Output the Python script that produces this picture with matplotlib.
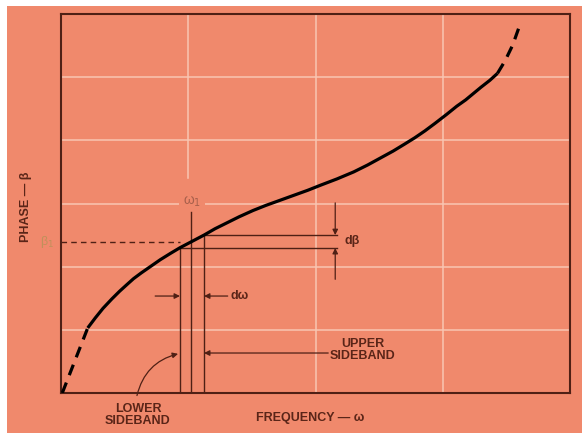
import numpy as np
import matplotlib.pyplot as plt
from matplotlib.patches import Rectangle

plt.rcParams['font.family'] = ['Liberation Sans', 'DejaVu Sans']

# phase curve (grid units: 4 columns, 6 rows)
dash_lo_x = [0.01, 0.21]
dash_lo_y = [0.0, 1.03]
curve_x = [0.21, 0.27, 0.33, 0.40, 0.46, 0.52, 0.57, 0.63, 0.68, 0.73, 0.78, 0.86,
           0.935, 1.02, 1.124, 1.21, 1.30, 1.40, 1.51, 1.61, 1.72, 1.83, 1.94, 2.04,
           2.17, 2.30, 2.41, 2.51, 2.61, 2.70, 2.78, 2.86, 2.94, 3.03, 3.11, 3.18,
           3.24, 3.30, 3.37, 3.43]
curve_y = [1.03, 1.19, 1.34, 1.49, 1.61, 1.72, 1.81, 1.90, 1.97, 2.04, 2.11, 2.21,
           2.30, 2.39, 2.50, 2.60, 2.69, 2.79, 2.89, 2.97, 3.05, 3.13, 3.21, 3.29,
           3.39, 3.50, 3.61, 3.72, 3.83, 3.94, 4.04, 4.15, 4.27, 4.41, 4.54, 4.64,
           4.74, 4.84, 4.95, 5.06]
dash_hi_x = [3.43, 3.49, 3.55, 3.61]
dash_hi_y = [5.06, 5.26, 5.51, 5.85]

w_lower, w_1, w_upper = 0.935, 1.02, 1.124
b_lower, b_1, b_upper = 2.295, 2.39, 2.50
w1_top = 2.87
line_end = 2.17

bg = '#F0896C'
grid_c = '#F9C6B2'
dark = '#4f2015'
txt = '#5a2518'

fig = plt.figure(figsize=(5.82, 4.33), dpi=100, facecolor='white')
fig.patches.append(Rectangle((7 / 582, 0), 1, (433 - 6) / 433, transform=fig.transFigure,
                             facecolor=bg, edgecolor='none', zorder=-10))
ax = fig.add_axes([61 / 582, 40 / 433, 509 / 582, 379 / 433])
ax.set_facecolor(bg)
ax.set_xlim(0, 4)
ax.set_ylim(0, 6)
ax.set_xticks([])
ax.set_yticks([])
for s in ax.spines.values():
    s.set_color(dark)
    s.set_linewidth(1.5)

# grid
for gy in [1, 2, 3, 4, 5]:
    ax.axhline(gy, color=grid_c, lw=1.1, zorder=1)
ax.plot([1, 1], [3.4, 6], color=grid_c, lw=1.1, zorder=1)
for gx in [2, 3]:
    ax.axvline(gx, color=grid_c, lw=1.1, zorder=1)

# curve
ax.plot(curve_x, curve_y, color='black', lw=2.3, zorder=5, solid_capstyle='butt',
        solid_joinstyle='round')
ax.plot(dash_lo_x, dash_lo_y, color='black', lw=2.3, ls=(0, (3.5, 2.5)), zorder=5)
ax.plot(dash_hi_x, dash_hi_y, color='black', lw=2.3, ls=(0, (3.5, 2.5)), zorder=5)

# sideband construction lines
lw = 1.0
ax.plot([w_lower, w_lower], [0, b_lower], color=dark, lw=lw, zorder=4)
ax.plot([w_1, w_1], [0, w1_top], color=dark, lw=lw, zorder=4)
ax.plot([w_upper, w_upper], [0, b_upper], color=dark, lw=lw, zorder=4)
ax.plot([w_lower, line_end], [b_lower, b_lower], color=dark, lw=lw, zorder=4)
ax.plot([w_upper, line_end], [b_upper, b_upper], color=dark, lw=lw, zorder=4)
ax.plot([0, w_lower], [b_1, b_1], color=dark, lw=lw, ls=(0, (4, 3)), zorder=4)

arr = dict(arrowstyle='-|>', mutation_scale=8, color=dark, lw=0.9, shrinkA=0, shrinkB=0)
# d-beta
ax.annotate('', xy=(2.155, b_upper), xytext=(2.155, 3.01), arrowprops=arr)
ax.annotate('', xy=(2.155, b_lower), xytext=(2.155, 1.80), arrowprops=arr)
ax.text(2.23, 2.40, 'd\u03b2', color=txt, fontsize=9, fontweight='bold', va='center', ha='left')
# d-omega
ax.annotate('', xy=(w_lower, 1.535), xytext=(0.74, 1.535), arrowprops=arr)
ax.annotate('', xy=(w_upper, 1.535), xytext=(1.31, 1.535), arrowprops=arr)
ax.text(1.33, 1.535, 'd\u03c9', color=txt, fontsize=9, fontweight='bold', va='center', ha='left')
# upper sideband
ax.annotate('', xy=(w_upper, 0.633), xytext=(2.10, 0.633), arrowprops=arr)
ax.text(2.37, 0.68, 'UPPER\nSIDEBAND', color=txt, fontsize=9, fontweight='bold',
        ha='center', va='center', linespacing=1.0)
# lower sideband
ax.annotate('', xy=(0.92, 0.62), xytext=(0.597, -0.04), annotation_clip=False,
            arrowprops=dict(arrowstyle='-|>', mutation_scale=8, color=dark, lw=0.9,
                            shrinkA=0, shrinkB=0, connectionstyle='arc3,rad=-0.3'))
ax.text(0.605, -0.35, 'LOWER\nSIDEBAND', color=txt, fontsize=9, fontweight='bold',
        ha='center', va='center', linespacing=1.0, clip_on=False)

# labels
ax.text(1.03, 3.02, '\u03c9$_1$', color='#a8604c', fontsize=10, ha='center', va='center',
        bbox=dict(facecolor=bg, edgecolor='none', pad=3), zorder=3)
ax.text(-0.11, b_1, '\u03b2$_1$', color='#c0905a', fontsize=9, ha='center', va='center',
        clip_on=False)
fig.text(310 / 582, 1 - 418 / 433, 'FREQUENCY \u2014 \u03c9', color=txt, fontsize=9,
         fontweight='bold', ha='center', va='center')
fig.text(26 / 582, 1 - 207 / 433, 'PHASE \u2014 \u03b2', color=txt, fontsize=9,
         fontweight='bold', ha='center', va='center', rotation=90)

fig.savefig('out.png', dpi=100, facecolor=fig.get_facecolor())
